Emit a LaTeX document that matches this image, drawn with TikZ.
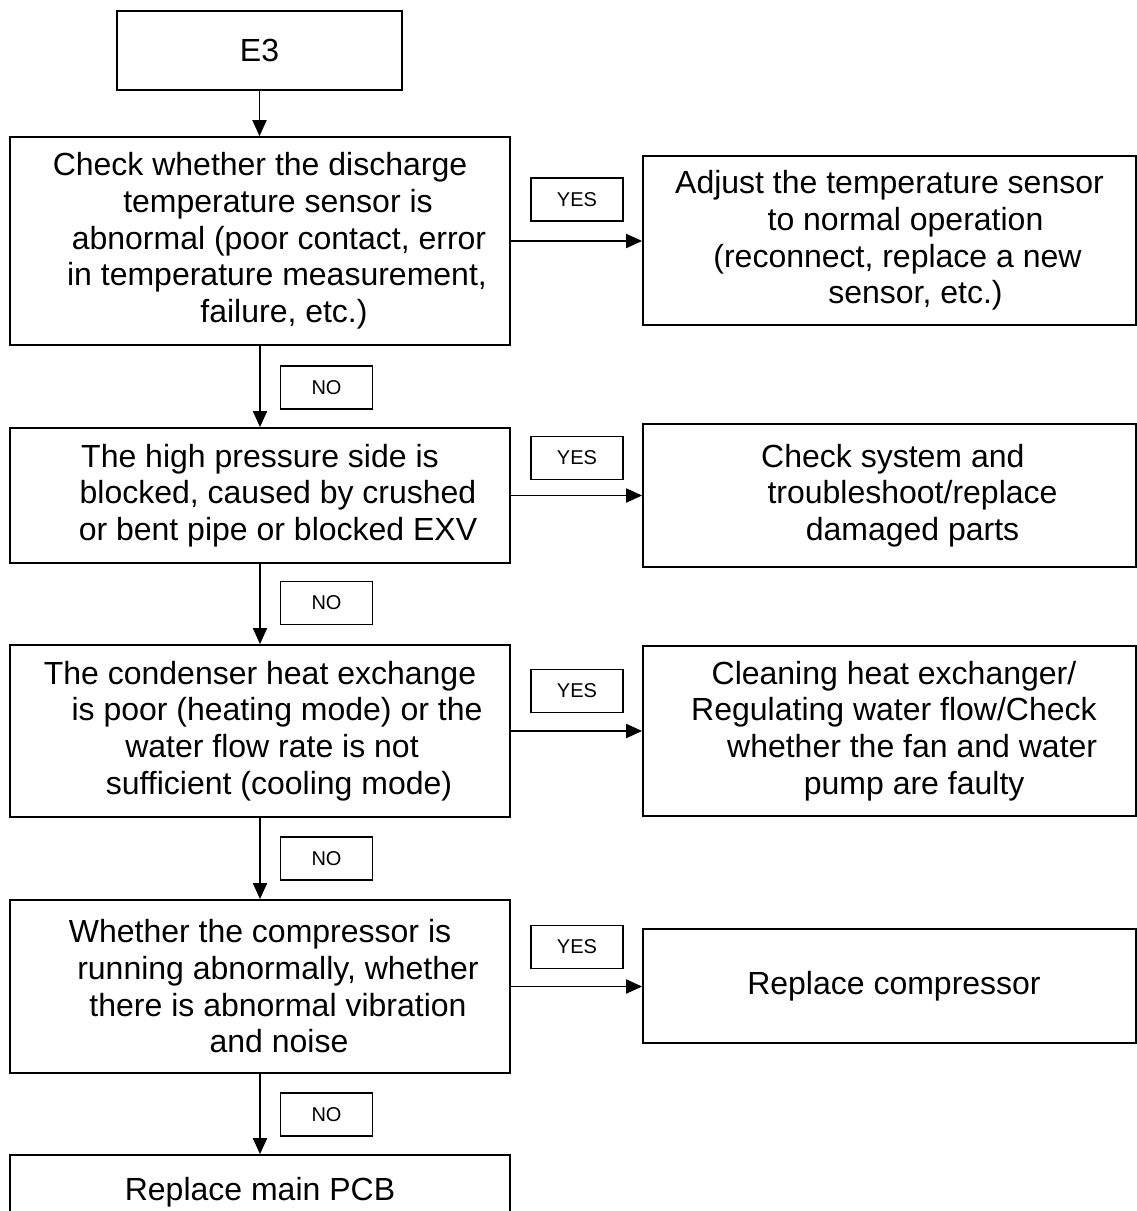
\documentclass[tikz,border=0pt]{standalone}
\usepackage{fontspec}
\setmainfont{Liberation Sans}
\usetikzlibrary{arrows.meta}
\newcommand{\lsp}[1]{\hspace*{#1pt}}
\begin{document}
\begin{tikzpicture}[x=0.75pt,y=-0.75pt,
  box/.style={draw, line width=1.3pt, align=center, inner sep=0pt,
    font=\fontsize{24pt}{27.5pt}\selectfont},
  lbl/.style={draw, line width=1.2pt, align=center, inner sep=0pt,
    minimum width=69pt, minimum height=32.25pt,
    font=\fontsize{15pt}{18pt}\selectfont},
  arr/.style={line width=1.4pt, -{Triangle[length=12pt,width=10.5pt]}}]
\useasboundingbox (0,0) rectangle (1137,1211);
\clip (0,0) rectangle (1137,1211);
% left column
\node[box, minimum width=213.75pt, minimum height=59.25pt] (e3) at (259.5,50.5) {E3};
\node[box, minimum width=375pt, minimum height=156pt] (b1) at (260,241)
  {Check whether the discharge\\\lsp{27}temperature sensor is\\\lsp{28.5}abnormal (poor contact, error\\\lsp{25.5}in temperature measurement,\\\lsp{36}failure, etc.)};
\node[box, minimum width=375pt, minimum height=101.25pt] (b2) at (260,495.5)
  {The high pressure side is\\\lsp{27}blocked, caused by crushed\\\lsp{27}or bent pipe or blocked EXV};
\node[box, minimum width=375pt, minimum height=129pt] (b3) at (260,731)
  {The condenser heat exchange\\\lsp{25.5}is poor (heating mode) or the\\\lsp{18}water flow rate is not\\\lsp{28.5}sufficient (cooling mode)};
\node[box, minimum width=375pt, minimum height=129.75pt] (b4) at (260,986.5)
  {Whether the compressor is\\\lsp{27}running abnormally, whether\\\lsp{27}there is abnormal vibration\\\lsp{28.5}and noise};
\node[box, minimum width=375pt, minimum height=55.5pt] (b5) at (260,1192)
  {Replace main PCB};
% right column
\node[box, minimum width=369.75pt, minimum height=126.75pt] (r1) at (889.5,240.5)
  {Adjust the temperature sensor\\\lsp{24}to normal operation\\\lsp{12}(reconnect, replace a new\\\lsp{39}sensor, etc.)};
\node[box, minimum width=369.75pt, minimum height=107.25pt] (r2) at (889.5,495.5)
  {\lsp{5}Check system and\\\lsp{34.5}troubleshoot/replace\\\lsp{34.5}damaged parts};
\node[box, minimum width=369.75pt, minimum height=127.5pt] (r3) at (889.5,731)
  {\lsp{6.75}Cleaning heat exchanger/\\\lsp{6.75}Regulating water flow/Check\\\lsp{34}whether the fan and water\\\lsp{37}pump are faulty};
\node[box, minimum width=369.75pt, minimum height=85.5pt] (r4) at (889.5,986)
  {\lsp{6.75}Replace compressor};
% labels
\node[lbl] (y1) at (577,199.5) {YES};
\node[lbl] (y2) at (577,458) {YES};
\node[lbl] (y3) at (577,691) {YES};
\node[lbl] (y4) at (577,947) {YES};
\node[lbl] (n1) at (326.5,387.5) {NO};
\node[lbl] (n2) at (326.5,603) {NO};
\node[lbl] (n3) at (326.5,858.5) {NO};
\node[lbl] (n4) at (326.5,1114.5) {NO};
% connectors
\draw[arr] (e3.south) -- (e3.south |- b1.north);
\draw[arr] (b1.south) -- (b2.north);
\draw[arr] (b2.south) -- (b3.north);
\draw[arr] (b3.south) -- (b4.north);
\draw[arr] (b4.south) -- (b5.north);
\draw[arr] (b1.east) -- (b1.east -| r1.west);
\draw[arr] (b2.east) -- (b2.east -| r2.west);
\draw[arr] (b3.east) -- (b3.east -| r3.west);
\draw[arr] (b4.east) -- (b4.east -| r4.west);
\end{tikzpicture}
\end{document}
